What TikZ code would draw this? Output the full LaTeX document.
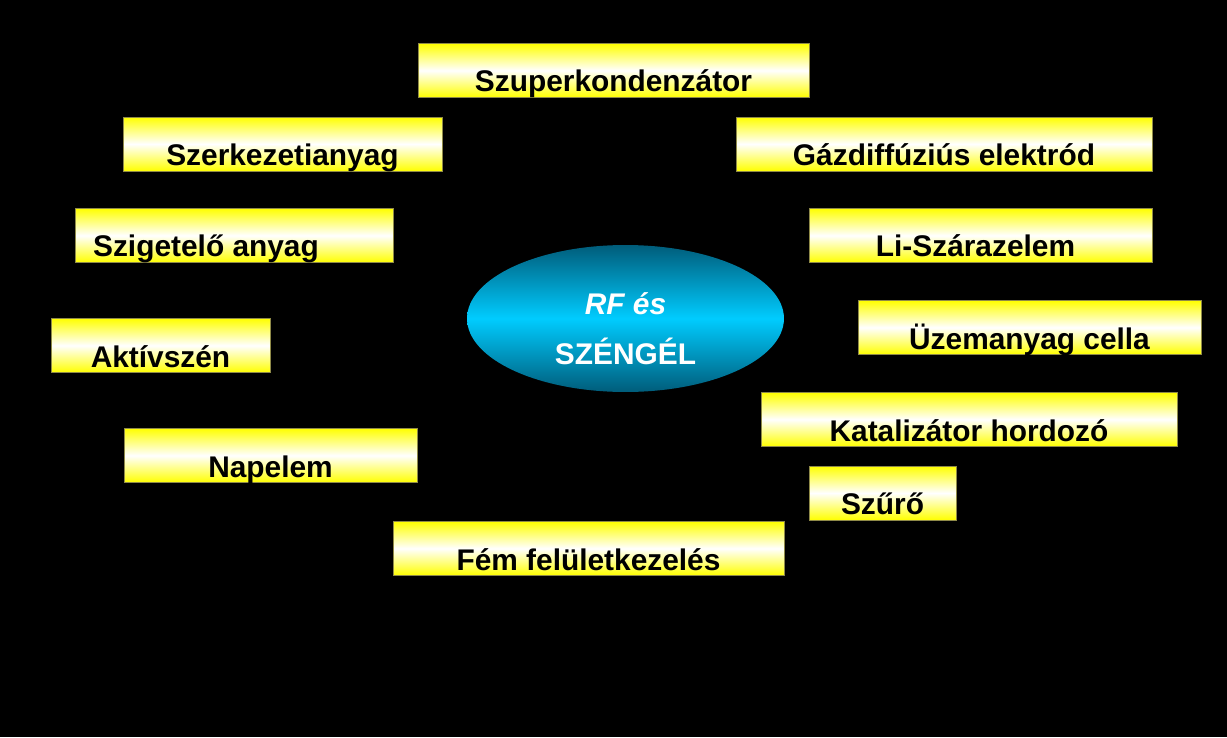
\documentclass[tikz,border=0pt]{standalone}
\usepackage{fontspec}
\setmainfont{Liberation Sans}
\usetikzlibrary{shapes.geometric}
\definecolor{tealdark}{RGB}{0,92,122}
\definecolor{cyanmid}{RGB}{0,204,255}
\begin{document}
\begin{tikzpicture}[x=0.02cm, y=-0.02cm,
  item node/.style={rectangle, draw=yellow!50!black, line width=0.4pt, top color=yellow, bottom color=yellow, middle color=white, minimum height=1.08cm, inner xsep=0pt, inner ysep=0pt, text height=0.97cm, text depth=0.11cm, font=\bfseries\fontsize{17}{20}\selectfont},
  center node/.style={ellipse, top color=tealdark, bottom color=tealdark, middle color=cyanmid, minimum width=6.34cm, minimum height=2.94cm, inner sep=0pt, align=center, text=white, font=\bfseries\fontsize{17}{28.5}\selectfont}]
\fill[black] (0,0) rectangle (1227,737);
\node[item node, minimum width=7.82cm] (szuper) at (613.5,70.5) {Szuperkondenzátor};
\node[item node, minimum width=6.38cm] (szerk) at (282.5,144) {Szerkezetianyag};
\node[item node, minimum width=8.32cm] (gaz) at (944,144) {Gázdiffúziús elektród};
\node[item node, minimum width=6.36cm] (szig) at (234,235.5) {Szigetelő anyag\hspace*{1.12cm}};
\node[item node, minimum width=6.86cm] (li) at (980.5,235.5) {Li-Szárazelem\hspace*{0.2cm}};
\node[item node, minimum width=6.86cm] (uzem) at (1029.5,327.5) {Üzemanyag cella};
\node[item node, minimum width=4.38cm] (aktiv) at (160.5,345.5) {Aktívszén};
\node[item node, minimum width=5.86cm] (nap) at (270.5,455.5) {Napelem};
\node[item node, minimum width=8.32cm] (kat) at (969,419.5) {Katalizátor hordozó};
\node[item node, minimum width=2.94cm] (szuro) at (882.5,493) {Szűrő};
\node[item node, minimum width=7.82cm] (fem) at (588.5,548.5) {Fém felületkezelés};
%\node (rf) ...
\node[center node] (rf) at (625.5,318.5) {\rule{0pt}{0.86cm}\textit{RF és}\\SZÉNGÉL};
\end{tikzpicture}
\end{document}
